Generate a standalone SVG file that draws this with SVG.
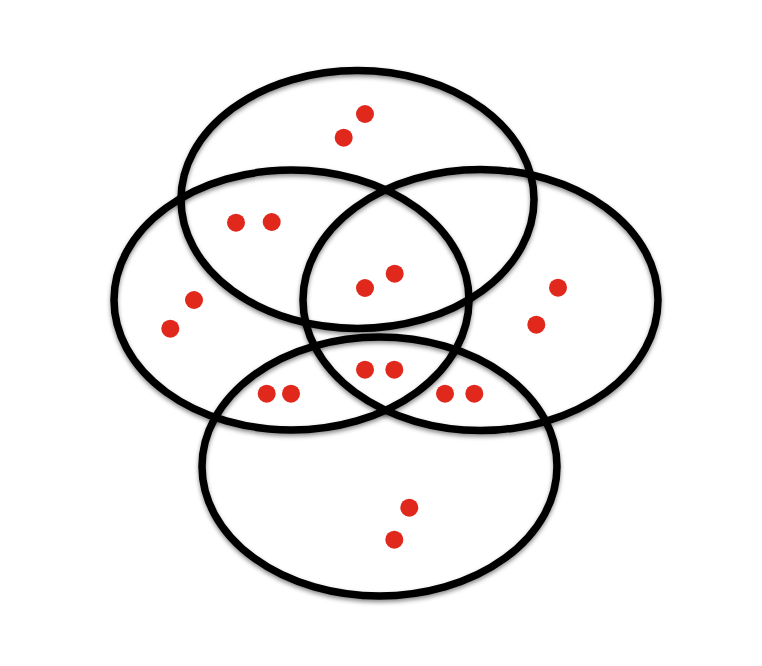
<svg xmlns="http://www.w3.org/2000/svg" width="762" height="666" viewBox="0 0 762 666">
<defs>
<filter id="sh" x="-10%" y="-10%" width="120%" height="125%">
<feDropShadow dx="0" dy="2.5" stdDeviation="2" flood-color="#000" flood-opacity="0.45"/>
</filter>
<style>
.set{fill:none;stroke:#000;stroke-width:7.5;filter:url(#sh)}
.dot{fill:#e0281c}
</style>
</defs>
<rect width="762" height="666" fill="#fff"/>
<g id="set-top"><ellipse class="set" cx="357.5" cy="199.5" rx="176.5" ry="129"/></g>
<g id="set-left"><ellipse class="set" cx="291.5" cy="300" rx="177.5" ry="130"/></g>
<g id="set-right"><ellipse class="set" cx="480.5" cy="300" rx="177.5" ry="130.5"/></g>
<g id="set-bottom"><ellipse class="set" cx="379.5" cy="466.5" rx="177.5" ry="129.5"/></g>
<g id="dots">
<circle class="dot" cx="365" cy="114" r="9"/>
<circle class="dot" cx="343.7" cy="137.7" r="9"/>
<circle class="dot" cx="236" cy="222.7" r="9"/>
<circle class="dot" cx="271.7" cy="222" r="9"/>
<circle class="dot" cx="194" cy="300" r="9"/>
<circle class="dot" cx="170.3" cy="328.7" r="9"/>
<circle class="dot" cx="365" cy="288" r="9"/>
<circle class="dot" cx="394.7" cy="273.7" r="9"/>
<circle class="dot" cx="558" cy="287.7" r="9"/>
<circle class="dot" cx="536.3" cy="324.7" r="9"/>
<circle class="dot" cx="365" cy="369.7" r="9"/>
<circle class="dot" cx="394.3" cy="369.7" r="9"/>
<circle class="dot" cx="266.7" cy="393.7" r="9"/>
<circle class="dot" cx="291" cy="393.7" r="9"/>
<circle class="dot" cx="445" cy="393.7" r="9"/>
<circle class="dot" cx="474.3" cy="393.7" r="9"/>
<circle class="dot" cx="409.3" cy="507.7" r="9"/>
<circle class="dot" cx="394.3" cy="539.7" r="9"/>
</g>
</svg>
